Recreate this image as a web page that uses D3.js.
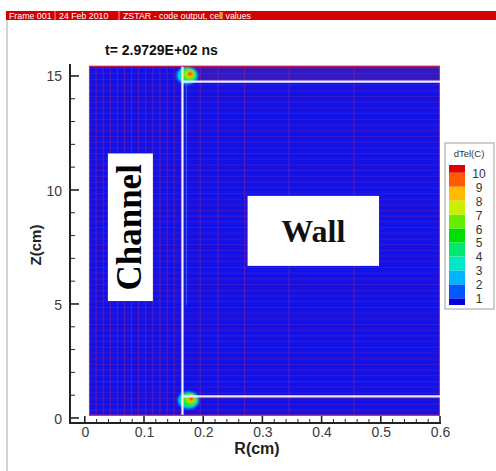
<!DOCTYPE html>
<html>
<head>
<meta charset="utf-8">
<script src="https://cdn.jsdelivr.net/npm/d3@7"></script>
<style>
  body { margin: 0; background: #fff; }
</style>
</head>
<body>
<div class="container"></div>
<script>
const WIDTH = 496;
const HEIGHT = 471;
const SANS = 'Arial, "Liberation Sans", sans-serif';
const SERIF = '"Liberation Serif", "DejaVu Serif", serif';

// axes
const X_DOMAIN = [-0.025, 0.6];
const Y_DOMAIN = [-0.22, 15.48];
const X_TICKS = [0, 0.1, 0.2, 0.3, 0.4, 0.5, 0.6];
const Y_TICKS = [0, 5, 10, 15];

// geometry of the computed field (cm)
const FIELD_R = [0.007, 0.6];
const FIELD_Z = [0.1, 15.45];
const CHANNEL_WALL_R = 0.165;
const WALL_Z = [0.95, 14.75];
const WALL_MESH_R = [0.195, 0.225, 0.27, 0.345, 0.455];
const CHANNEL_MESH_STEP = 0.012;
const Z_MESH_STEP = 0.25;

// hot spots of dTel at the channel corners
const HOT_SPOT_R = [0.173, 0.175];
const HOT_SPOT_Z = [15.02, 0.78];
const SPOT_VALUES = [2.5, 3.5, 4.5, 5.5, 6.5, 7.5, 9.5, 10.5];
const SPOT_DR = [0.018, 0.016, 0.014, 0.012, 0.0095, 0.007, 0.0045, 0.0025];
const SPOT_DZ = [0.38, 0.34, 0.3, 0.26, 0.21, 0.16, 0.11, 0.065];

// legend
const LEGEND_LEVELS = [1, 2, 3, 4, 5, 6, 7, 8, 9, 10];
const LEGEND_COLORS = ['#0000dc', '#0058ff', '#00b4ff', '#00e8c8', '#00e870',
                       '#00e000', '#66ee00', '#c8f000', '#ffbb00', '#ff5a00', '#e00000'];

const FRAME_TEXT = ['Frame 001', '24 Feb 2010', 'ZSTAR - code output, cell values'];
const TIME_TEXT = 't= 2.9729E+02 ns';

var xScale = d3.scaleLinear().domain(X_DOMAIN).range([70, 440]);
var yScale = d3.scaleLinear().domain(Y_DOMAIN).range([423, 65]);
var colorScale = d3.scaleThreshold().domain(LEGEND_LEVELS).range(LEGEND_COLORS);

var translate = function(x, y){
    return "translate(" + x + "," + y + ")";
};

var svg = d3.select('.container').append('svg')
    .attr('width', WIDTH)
    .attr('height', HEIGHT)
    .style('font-family', SANS);

var defs = svg.append('defs');
defs.append('filter').attr('id', 'soft')
    .attr('x', '-50%').attr('y', '-50%').attr('width', '200%').attr('height', '200%')
    .append('feGaussianBlur').attr('stdDeviation', 1.2);
defs.append('clipPath').attr('id', 'fieldClip')
    .append('rect')
    .attr('x', xScale(FIELD_R[0]))
    .attr('y', yScale(FIELD_Z[1]))
    .attr('width', xScale(FIELD_R[1]) - xScale(FIELD_R[0]))
    .attr('height', yScale(FIELD_Z[0]) - yScale(FIELD_Z[1]));

// page frame
svg.append('line')
    .attr('x1', 7).attr('x2', 7).attr('y1', 20).attr('y2', HEIGHT)
    .attr('stroke', '#c4c4c4').attr('stroke-width', 1.5);

var header = svg.append('g');
header.append('rect')
    .attr('x', 6).attr('y', 11).attr('width', WIDTH - 6).attr('height', 9)
    .attr('fill', '#d40000');
var headerX = [9, 59, 123];
FRAME_TEXT.forEach(function(t, i){
    header.append('text')
        .attr('x', headerX[i]).attr('y', 18.5)
        .attr('font-size', 8.8).attr('fill', '#fff')
        .text(t);
    if (i > 0) {
        header.append('line')
            .attr('x1', headerX[i] - 4).attr('x2', headerX[i] - 4)
            .attr('y1', 11).attr('y2', 20)
            .attr('stroke', '#f0a0a0').attr('stroke-width', 1);
    }
});

svg.append('text')
    .attr('x', 105).attr('y', 55)
    .attr('font-size', 14).attr('font-weight', 'bold').attr('fill', '#111')
    .text(TIME_TEXT);

// field
var field = svg.append('g').attr('clip-path', 'url(#fieldClip)');

field.append('rect')
    .attr('x', xScale(FIELD_R[0]))
    .attr('y', yScale(FIELD_Z[1]))
    .attr('width', xScale(FIELD_R[1]) - xScale(FIELD_R[0]))
    .attr('height', yScale(FIELD_Z[0]) - yScale(FIELD_Z[1]))
    .attr('fill', '#1212e6');

// slightly warmer strip above the wall
field.append('rect')
    .attr('x', xScale(CHANNEL_WALL_R))
    .attr('y', yScale(FIELD_Z[1]))
    .attr('width', xScale(FIELD_R[1]) - xScale(CHANNEL_WALL_R))
    .attr('height', yScale(WALL_Z[1]) - yScale(FIELD_Z[1]))
    .attr('fill', '#3418c0');

var channelMeshR = d3.range(FIELD_R[0] + CHANNEL_MESH_STEP, CHANNEL_WALL_R, CHANNEL_MESH_STEP);
var zMesh = d3.range(FIELD_Z[0] + Z_MESH_STEP, FIELD_Z[1], Z_MESH_STEP);

field.append('g').selectAll('line')
    .data(zMesh)
    .enter().append('line')
    .attr('x1', xScale(FIELD_R[0])).attr('x2', xScale(FIELD_R[1]))
    .attr('y1', function(d){ return yScale(d); })
    .attr('y2', function(d){ return yScale(d); })
    .attr('stroke', '#9a2a9a').attr('stroke-opacity', 0.4).attr('stroke-width', 0.8);

field.append('g').selectAll('line')
    .data(channelMeshR.concat(WALL_MESH_R))
    .enter().append('line')
    .attr('x1', function(d){ return xScale(d); })
    .attr('x2', function(d){ return xScale(d); })
    .attr('y1', yScale(FIELD_Z[0])).attr('y2', yScale(FIELD_Z[1]))
    .attr('stroke', '#b02a7a').attr('stroke-opacity', 0.5).attr('stroke-width', 0.9);

// faint streak along the channel wall
field.append('line')
    .attr('x1', xScale(CHANNEL_WALL_R) + 4).attr('x2', xScale(CHANNEL_WALL_R) + 4)
    .attr('y1', yScale(WALL_Z[1])).attr('y2', yScale(WALL_Z[0] + 4))
    .attr('stroke', '#60a8ff').attr('stroke-opacity', 0.35).attr('stroke-width', 1.4);

// hot spots
HOT_SPOT_R.forEach(function(r, s){
    field.append('g').attr('filter', 'url(#soft)')
        .selectAll('ellipse')
        .data(SPOT_VALUES)
        .enter().append('ellipse')
        .attr('cx', function(d, i){ return xScale(r) + i * 0.45; })
        .attr('cy', function(d, i){ return yScale(HOT_SPOT_Z[s]) - i * 0.25; })
        .attr('rx', function(d, i){ return xScale(SPOT_DR[i]) - xScale(0); })
        .attr('ry', function(d, i){ return yScale(0) - yScale(SPOT_DZ[i]); })
        .attr('fill', function(d){ return colorScale(d); });
});

// field border
field.append('rect')
    .attr('x', xScale(FIELD_R[0]))
    .attr('y', yScale(FIELD_Z[1]))
    .attr('width', xScale(FIELD_R[1]) - xScale(FIELD_R[0]))
    .attr('height', yScale(FIELD_Z[0]) - yScale(FIELD_Z[1]))
    .attr('fill', 'none').attr('stroke', '#e02040').attr('stroke-width', 2.2);

// channel / wall boundary
var boundary = svg.append('g')
    .attr('stroke', '#eceeff').attr('stroke-width', 2.2).attr('fill', 'none');
boundary.append('line')
    .attr('x1', xScale(CHANNEL_WALL_R)).attr('x2', xScale(CHANNEL_WALL_R))
    .attr('y1', yScale(FIELD_Z[1]) + 1).attr('y2', yScale(FIELD_Z[0]) - 1);
WALL_Z.forEach(function(z){
    boundary.append('line')
        .attr('x1', xScale(CHANNEL_WALL_R)).attr('x2', xScale(FIELD_R[1]))
        .attr('y1', yScale(z)).attr('y2', yScale(z));
});

// region labels
svg.append('rect')
    .attr('x', xScale(0.039)).attr('y', yScale(11.6))
    .attr('width', xScale(0.115) - xScale(0.039))
    .attr('height', yScale(5.13) - yScale(11.6))
    .attr('fill', '#fff');
svg.append('text')
    .attr('transform', translate(xScale(0.077) + 11, yScale(8.36)) + ' rotate(-90)')
    .attr('text-anchor', 'middle')
    .style('font-family', SERIF).attr('font-weight', 'bold')
    .attr('font-size', 35).attr('fill', '#000')
    .text('Channel');

svg.append('rect')
    .attr('x', xScale(0.275)).attr('y', yScale(9.74))
    .attr('width', xScale(0.497) - xScale(0.275))
    .attr('height', yScale(6.67) - yScale(9.74))
    .attr('fill', '#fff');
svg.append('text')
    .attr('x', xScale(0.386)).attr('y', yScale(8.2) + 11)
    .attr('text-anchor', 'middle')
    .style('font-family', SERIF).attr('font-weight', 'bold')
    .attr('font-size', 32).attr('fill', '#111')
    .text('Wall');

// axes
var xAxis = d3.axisBottom(xScale).tickValues(X_TICKS).tickSize(0).tickPadding(4)
    .tickFormat(d3.format('.1~f'));
var yAxis = d3.axisLeft(yScale).tickValues(Y_TICKS).tickSize(0).tickPadding(8);

var gx = svg.append('g').attr('transform', translate(0, 423)).call(xAxis);
var gy = svg.append('g').attr('transform', translate(70, 0)).call(yAxis);
[gx, gy].forEach(function(g){
    g.select('.domain').remove();
    g.selectAll('text').attr('font-size', 14).attr('fill', '#3a3a3a')
        .style('font-family', SANS);
});
gy.selectAll('text').attr('dy', '0.36em');

var axisInk = svg.append('g').attr('stroke', '#222');
axisInk.append('line').attr('x1', 70).attr('x2', 441).attr('y1', 423).attr('y2', 423)
    .attr('stroke-width', 2);
axisInk.append('line').attr('x1', 70).attr('x2', 70).attr('y1', 64).attr('y2', 424)
    .attr('stroke-width', 2);

var xMinor = d3.range(0, 0.6001, 0.02);
var yMinor = d3.range(0, 15.4, 1);
var isMajorX = function(d){ return Math.abs(d * 10 - Math.round(d * 10)) < 1e-6; };
axisInk.selectAll('.xt').data(xMinor).enter().append('line')
    .attr('x1', function(d){ return xScale(d); })
    .attr('x2', function(d){ return xScale(d); })
    .attr('y1', 423)
    .attr('y2', function(d){ return isMajorX(d) ? 416 : 419; })
    .attr('stroke-width', function(d){ return isMajorX(d) ? 1.6 : 1; });
axisInk.selectAll('.yt').data(yMinor).enter().append('line')
    .attr('y1', function(d){ return yScale(d); })
    .attr('y2', function(d){ return yScale(d); })
    .attr('x1', 70)
    .attr('x2', function(d){ return d % 5 === 0 ? 79 : 75; })
    .attr('stroke-width', function(d){ return d % 5 === 0 ? 1.6 : 1; });

svg.append('text')
    .attr('x', 257).attr('y', 454)
    .attr('text-anchor', 'middle')
    .attr('font-size', 16).attr('font-weight', 'bold').attr('fill', '#222')
    .text('R(cm)');
svg.append('text')
    .attr('transform', translate(41, 245) + ' rotate(-90)')
    .attr('text-anchor', 'middle')
    .attr('font-size', 15).attr('font-weight', 'bold').attr('fill', '#222')
    .text('Z(cm)');

// legend
var legendScale = d3.scaleLinear().domain([1, 10]).range([298.3, 172.7]);
var legend = svg.append('g');
legend.append('rect')
    .attr('x', 445).attr('y', 143).attr('width', 49).attr('height', 166)
    .attr('fill', '#fff').attr('stroke', '#a0a0a0').attr('stroke-width', 1);
legend.append('text')
    .attr('x', 469).attr('y', 157)
    .attr('text-anchor', 'middle')
    .attr('font-size', 9.5).attr('fill', '#333')
    .text('dTel(C)');

var bandEdges = [305].concat(LEGEND_LEVELS.map(legendScale)).concat([165]);
legend.selectAll('.band').data(LEGEND_COLORS).enter().append('rect')
    .attr('x', 449).attr('width', 16)
    .attr('y', function(d, i){ return bandEdges[i + 1]; })
    .attr('height', function(d, i){ return bandEdges[i] - bandEdges[i + 1]; })
    .attr('fill', function(d){ return d; });

legend.selectAll('.lab').data(LEGEND_LEVELS).enter().append('text')
    .attr('x', 479).attr('y', function(d){ return legendScale(d) + 5; })
    .attr('text-anchor', 'middle')
    .attr('font-size', 12).attr('fill', '#333')
    .text(function(d){ return d; });
</script>
</body>
</html>
